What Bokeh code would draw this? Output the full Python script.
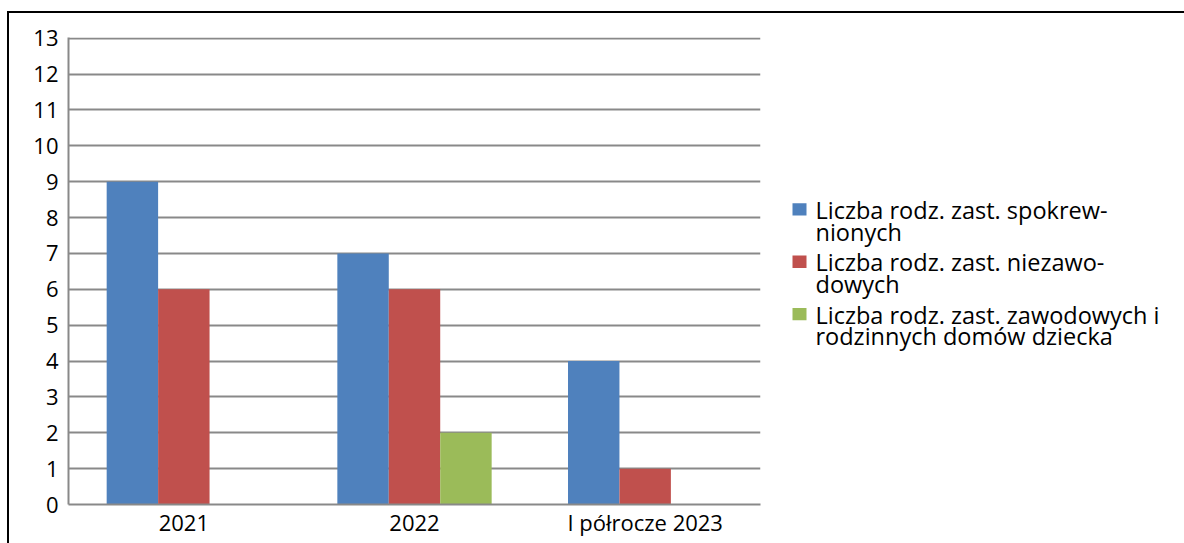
from bokeh.plotting import figure
from bokeh.layouts import row
from bokeh.models import ColumnDataSource, FactorRange, Range1d, SingleIntervalTicker
from bokeh.transform import dodge
from bokeh.embed import file_html
from bokeh.resources import INLINE
from bokeh.core.properties import value

# ---- data ----
categories = ["2021", "2022", "I półrocze 2023"]
spokrewnionych = [9, 7, 4]
niezawodowych = [6, 6, 1]
zawodowych_rdd = [0, 2, 0]
series_names = [
    ["Liczba rodz. zast. spokrew-", "nionych"],
    ["Liczba rodz. zast. niezawo-", "dowych"],
    ["Liczba rodz. zast. zawodowych i", "rodzinnych domów dziecka"],
]
colors = ["#4F81BD", "#C0504D", "#9BBB59"]

FONT = "Open Sans"
FS = "22px"
LEG_FS = "23.5px"

src = ColumnDataSource(dict(cat=categories, s1=spokrewnionych, s2=niezawodowych, s3=zawodowych_rdd))

p = figure(x_range=FactorRange(*categories, range_padding=0), y_range=Range1d(0, 13.02),
           width=761, height=530, min_border_left=59, min_border_right=10,
           min_border_top=24, min_border_bottom=39,
           output_backend="svg", toolbar_location=None)
p.outline_line_color = None

bw = 0.223
for key, off, c in zip(["s1", "s2", "s3"], [-bw, 0.0, bw], colors):
    p.vbar(x=dodge("cat", off, range=p.x_range), top=key, width=bw, source=src,
           fill_color=c, line_color=None)

gray = "#898989"
p.xgrid.grid_line_color = None
p.ygrid.grid_line_color = gray
p.ygrid.grid_line_width = 2
p.yaxis.ticker = SingleIntervalTicker(interval=1)
for ax in (p.xaxis[0], p.yaxis[0]):
    ax.axis_line_color = gray
    ax.axis_line_width = 2
    ax.major_tick_line_color = None
    ax.minor_tick_line_color = None
    ax.major_tick_out = 0
    ax.major_tick_in = 0
    ax.major_label_text_font = FONT
    ax.major_label_text_font_size = FS
    ax.major_label_text_color = "black"
p.yaxis.major_label_standoff = 6
p.xaxis.major_label_standoff = 2

# ---- legend (separate panel, pixel-mapped ranges) ----
lg = figure(width=414, height=530, x_range=Range1d(770, 1184), y_range=Range1d(543, 13),
            min_border=0, output_backend="svg", toolbar_location=None)
lg.axis.visible = False
lg.grid.visible = False
lg.outline_line_color = None

entry_y = [208, 267.5, 327]
sq = ColumnDataSource(dict(x=[799] * 3, y=entry_y, c=colors))
lg.rect(x="x", y="y", width=14, height=14, fill_color="c", line_color=None, source=sq)
tx, ty, tt = [], [], []
for lines, y0 in zip(series_names, entry_y):
    for i, line in enumerate(lines):
        tx.append(815)
        ty.append(y0 + 0.5 + 24.7 * i)
        tt.append(line)
lg.text(x=tx, y=ty, text=tt, text_font=value(FONT), text_font_size=LEG_FS,
        text_baseline="alphabetic", text_align="left", text_color="black")

layout = row(p, lg, margin=(11, 0, 0, 7),
             styles={"border-top": "2px solid black", "border-left": "2px solid black"})

open("out.html", "w").write(file_html(layout, INLINE))
